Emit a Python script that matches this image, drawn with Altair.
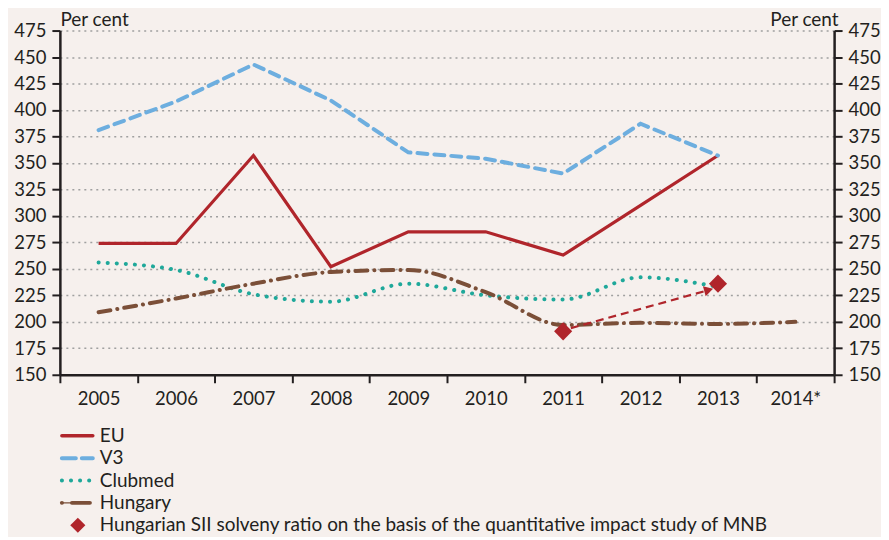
import altair as alt
import pandas as pd

# ---- data ----
years = ["2005", "2006", "2007", "2008", "2009", "2010", "2011", "2012", "2013", "2014*"]
eu = [274, 274, 357, 252, 285, 285, 263, 310, 357, None]
v3 = [381, 408, 443, 409, 360, 354, 340, 387, 357, None]
clubmed = [256, 249, 226, 219, 236, 225, 221, 242, 233, None]
hungary = [209, 222, 236, 247, 249, 228, 197, 199, 198, 200]
sii_years = ["2011", "2013"]
sii_values = [191, 236]
arrow_values = [194, 230]

legend_labels = ["EU", "V3", "Clubmed", "Hungary",
                 "Hungarian SII solveny ratio on the basis of the quantitative impact study of MNB"]

y_ticks = list(range(150, 476, 25))

# ---- style ----
BG = "#F6F0ED"
C_EU = "#B0252B"
C_V3 = "#6DAEDF"
C_CM = "#1FA89A"
C_HU = "#7B4F38"
INK = "#231F20"
FONT = "Lato"
TICK_FS = 18.5
TEXT_FS = 19
W, H = 776, 345


def series_df(vals):
    rows = []
    for i, (y, v) in enumerate(zip(years, vals)):
        if v is not None:
            rows.append({"pos": i + 0.5, "year": y, "value": v})
    return pd.DataFrame(rows)


df_eu = series_df(eu)
df_v3 = series_df(v3)
df_cm = series_df(clubmed)
df_hu = series_df(hungary)
df_sii = pd.DataFrame({"pos": [years.index(y) + 0.5 for y in sii_years], "value": sii_values})
arrow_pos = [years.index(sii_years[0]) + 0.6, years.index(sii_years[1]) + 0.38]
df_arrow = pd.DataFrame({"pos": arrow_pos, "value": arrow_values})
df_head = df_arrow.iloc[[1]]

xscale = alt.Scale(domain=[0, 10], nice=False, zero=False)
yscale = alt.Scale(domain=[150, 475], nice=False, zero=False)

x_enc = alt.X(
    "pos:Q", scale=xscale,
    axis=alt.Axis(
        values=list(range(0, 11)), title=None, grid=False,
        labelExpr="datum.value < 9 ? toString(2005 + datum.value) : (datum.value == 9 ? '2014*' : '')",
        labelOffset=W / 20, labelFlush=False, labelOverlap=False,
        tickSize=8, tickWidth=2, tickColor=INK,
        domainColor=INK, domainWidth=2.5,
        labelFontSize=TICK_FS, labelFont=FONT, labelColor=INK, labelPadding=7,
    ),
)

left_axis = alt.Axis(
    values=y_ticks, title="Per cent", titleAngle=0, titleAlign="left", titleX=0, titleY=-1,
    titleBaseline="bottom", titleFontWeight="normal", titleFontSize=TEXT_FS, titleFont=FONT,
    titleColor=INK,
    grid=True, gridDash=[2, 4], gridColor="#A0A0A0", gridWidth=1.5,
    tickSize=8, tickWidth=2, tickColor=INK, domainColor=INK, domainWidth=2.5,
    labelFontSize=TICK_FS, labelFont=FONT, labelColor=INK, labelPadding=6,
)
right_axis = alt.Axis(
    orient="right", values=y_ticks, title="Per cent", titleAngle=0, titleAlign="right",
    titleX=4, titleY=-1, titleBaseline="bottom", titleFontWeight="normal", titleFontSize=TEXT_FS,
    titleFont=FONT, titleColor=INK,
    grid=False,
    tickSize=8, tickWidth=2, tickColor=INK, domainColor=INK, domainWidth=2.5,
    labelFontSize=TICK_FS, labelFont=FONT, labelColor=INK, labelPadding=6,
)

eu_layer = alt.Chart(df_eu).mark_line(color=C_EU, strokeWidth=3.2).encode(
    x=x_enc, y=alt.Y("value:Q", scale=yscale, axis=left_axis))
v3_layer = alt.Chart(df_v3).mark_line(color=C_V3, strokeWidth=4, strokeDash=[10, 7],
                                      strokeCap="round").encode(
    x=x_enc, y=alt.Y("value:Q", scale=yscale, axis=right_axis))
cm_layer = alt.Chart(df_cm).mark_line(color=C_CM, strokeWidth=4, strokeDash=[0.1, 9],
                                      strokeCap="round", interpolate="monotone").encode(
    x=x_enc, y=alt.Y("value:Q", scale=yscale, axis=None))
hu_layer = alt.Chart(df_hu).mark_line(color=C_HU, strokeWidth=4, strokeDash=[12, 7, 0.1, 7],
                                      strokeCap="round", interpolate="monotone").encode(
    x=x_enc, y=alt.Y("value:Q", scale=yscale, axis=None))
arrow_layer = alt.Chart(df_arrow).mark_line(color=C_EU, strokeWidth=2.2, strokeDash=[8, 5]).encode(
    x=x_enc, y=alt.Y("value:Q", scale=yscale, axis=None))
head_layer = alt.Chart(df_head).mark_point(shape="triangle-right", filled=True, color=C_EU,
                                           size=110, angle=345, opacity=1).encode(
    x=x_enc, y=alt.Y("value:Q", scale=yscale, axis=None))
sii_layer = alt.Chart(df_sii).mark_point(shape="diamond", filled=True, color=C_EU,
                                         size=330, opacity=1).encode(
    x=x_enc, y=alt.Y("value:Q", scale=yscale, axis=None))

main = alt.layer(eu_layer, v3_layer, cm_layer, hu_layer, arrow_layer, head_layer, sii_layer).resolve_scale(
    y="independent").properties(width=W, height=H)

# ---- legend ----
df_leg = pd.DataFrame({"label": legend_labels})
ly = alt.Y("label:N", scale=alt.Scale(domain=legend_labels, paddingInner=0, paddingOuter=0), axis=None)


def leg_rule(label, color, dash, width, x0=2, x1=33):
    kw = {"color": color, "strokeWidth": width, "strokeCap": "round"}
    if dash:
        kw["strokeDash"] = dash
    return alt.Chart(df_leg).transform_filter(alt.datum.label == label).mark_rule(**kw).encode(
        x=alt.value(x0), x2=alt.value(x1), y=ly)


leg_layers = [
    leg_rule("EU", C_EU, None, 3.5),
    leg_rule("V3", C_V3, [14, 6], 4),
    leg_rule("Clubmed", C_CM, [0.1, 9], 4, 2, 30),
    leg_rule("Hungary", C_HU, None, 1.2, 2, 14),
    leg_rule("Hungary", C_HU, [0.1, 10, 18, 50], 4, 2, 31),
    alt.Chart(df_leg).transform_filter(alt.datum.label == legend_labels[4]).mark_point(
        shape="diamond", filled=True, color=C_EU, size=230, opacity=1).encode(x=alt.value(18), y=ly),
    alt.Chart(df_leg).mark_text(align="left", baseline="middle", font=FONT, fontSize=TEXT_FS,
                                color=INK).encode(x=alt.value(40), y=ly, text="label:N"),
]
legend = alt.layer(*leg_layers).properties(width=W, height=112)

chart = alt.vconcat(main, legend, spacing=50, bounds="flush").properties(
    background=BG, padding={"left": 5, "top": 2, "right": 0, "bottom": 0}
).configure_view(stroke=None)

chart.save("out.html", embed_options={"renderer": "svg", "actions": False})
